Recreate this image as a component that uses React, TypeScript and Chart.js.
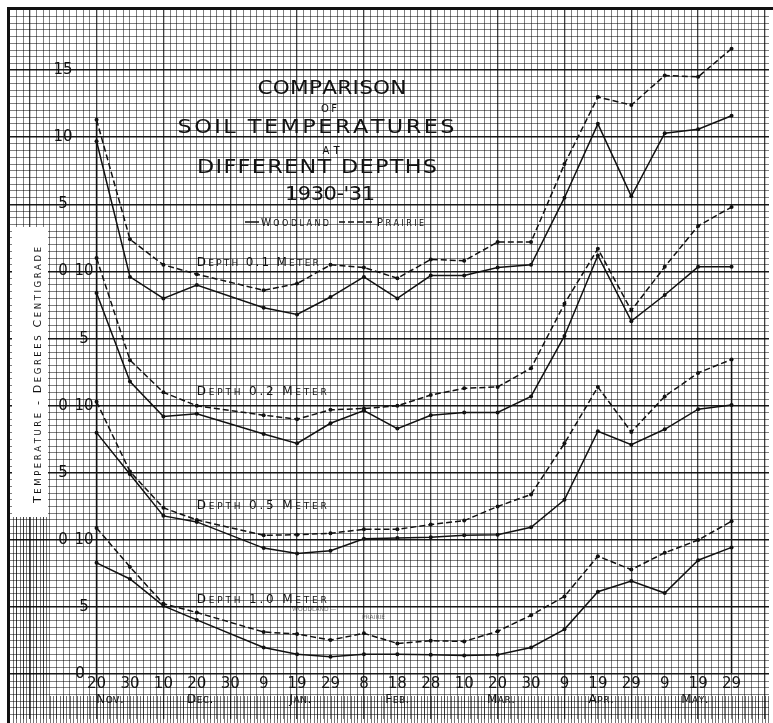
import React, { useEffect, useRef } from 'react';
import { Chart, registerables } from 'chart.js';

Chart.register(...registerables);

// Days after 20 Nov 1930 on which readings were taken (no reading on 30 Dec)
const readingDays = [0, 10, 20, 30, 50, 60, 70, 80, 90, 100, 110, 120, 130, 140, 150, 160, 170, 180, 190];

// Soil temperatures, degrees centigrade
const woodland01 = [9.7, -0.4, -2.0, -1.0, -2.7, -3.2, -1.9, -0.4, -2.0, -0.3, -0.3, 0.3, 0.5, 5.5, 11.0, 5.6, 10.3, 10.6, 11.6];
const prairie01 = [11.3, 2.4, 0.5, -0.2, -1.4, -0.9, 0.5, 0.3, -0.5, 0.9, 0.8, 2.2, 2.2, 8.0, 13.0, 12.4, 14.6, 14.5, 16.6];
const woodland02 = [8.4, 1.8, -0.8, -0.6, -2.1, -2.8, -1.3, -0.35, -1.7, -0.7, -0.5, -0.5, 0.7, 5.2, 11.2, 6.3, 8.25, 10.35, 10.35];
const prairie02 = [11.0, 3.4, 1.0, 0.0, -0.7, -1.0, -0.3, -0.2, 0.0, 0.8, 1.3, 1.4, 2.8, 7.6, 11.7, 7.1, 10.35, 13.4, 14.8];
const woodland05 = [8.0, 4.9, 1.8, 1.35, -0.6, -1.0, -0.8, 0.1, 0.15, 0.2, 0.35, 0.4, 0.95, 3.0, 8.1, 7.1, 8.25, 9.75, 10.05];
const prairie05 = [10.3, 5.1, 2.4, 1.5, 0.35, 0.4, 0.5, 0.8, 0.8, 1.15, 1.45, 2.5, 3.4, 7.2, 11.4, 8.05, 10.7, 12.45, 13.45];
const woodland10 = [8.3, 7.1, 5.1, 4.05, 2.0, 1.5, 1.3, 1.5, 1.5, 1.45, 1.4, 1.45, 2.0, 3.35, 6.15, 6.95, 6.05, 8.5, 9.45];
const prairie10 = [10.9, 8.0, 5.25, 4.6, 3.15, 3.0, 2.55, 3.05, 2.3, 2.5, 2.45, 3.2, 4.4, 5.8, 8.8, 7.8, 9.05, 10.0, 11.4];

const depthNames = ['0.1', '0.2', '0.5', '1.0'];
// each depth is drawn on its own zero, stacked 10 degrees apart
const depthOffsets = [30, 20, 10, 0];
const woodlandSeries = [woodland01, woodland02, woodland05, woodland10];
const prairieSeries = [prairie01, prairie02, prairie05, prairie10];

// x-axis ticks
const tickDays = [0, 10, 20, 30, 40, 50, 60, 70, 80, 90, 100, 110, 120, 130, 140, 150, 160, 170, 180, 190];
const dayTickLabels = ['20', '30', '10', '20', '30', '9', '19', '29', '8', '18', '28', '10', '20', '30', '9', '19', '29', '9', '19', '29'];
const monthTickDays = [4, 31, 61, 90, 121, 151, 179];
const monthTickLabels = ['NOV.', 'DEC.', 'JAN.', 'FEB.', 'MAR.', 'APR.', 'MAY.'];

// y-axis ticks (two columns of labels, values on the stacked scale)
const outerTickValues = [45, 40, 35, 30, 20, 15, 10];
const outerTickLabels = ['15', '10', '5', '0', '0', '5', '0'];
const innerTickValues = [30, 25, 20, 10, 5, 0];
const innerTickLabels = ['10', '5', '10', '10', '5', '0'];

const titleLines = ['COMPARISON', 'OF', 'SOIL TEMPERATURES', 'AT', 'DIFFERENT DEPTHS', "1930-'31"];
const yTitle = 'TEMPERATURE - DEGREES CENTIGRADE';

const FAMILY = '"DejaVu Sans", sans-serif';
const INK = '#111';

function lettering(
  ctx: CanvasRenderingContext2D,
  text: string,
  x: number,
  cy: number,
  big: number,
  small: number,
  width: number | null,
  align: 'left' | 'center' = 'center',
  stretch = 1
) {
  const chars = [...text];
  const sizes = chars.map((ch, i) =>
    i === 0 || chars[i - 1] === ' ' || /[0-9.\-']/.test(ch) ? big : small
  );
  const widths = chars.map((ch, i) => {
    ctx.font = `${sizes[i]}px ${FAMILY}`;
    return ctx.measureText(ch).width * stretch;
  });
  const natural = widths.reduce((a, b) => a + b, 0);
  const gap = width ? (width - natural) / Math.max(1, chars.length - 1) : 0.5;
  const total = natural + gap * (chars.length - 1);
  let cx = align === 'center' ? x - total / 2 : x;
  const baseline = cy + big * 0.36;
  ctx.textAlign = 'left';
  ctx.textBaseline = 'alphabetic';
  chars.forEach((ch, i) => {
    ctx.font = `${sizes[i]}px ${FAMILY}`;
    ctx.save();
    ctx.translate(cx, baseline);
    ctx.scale(stretch, 1);
    ctx.fillText(ch, 0, 0);
    ctx.restore();
    cx += widths[i] + gap;
  });
}

const paperPlugin = {
  id: 'paper',
  beforeDatasetsDraw(chart: any) {
    // denser hatching of the worn paper strip along the bottom and lower left
    const ctx: CanvasRenderingContext2D = chart.ctx;
    const xs = chart.scales.x;
    ctx.save();
    ctx.strokeStyle = 'rgba(0,0,0,0.55)';
    ctx.lineWidth = 1;
    for (let d = -25; d <= 201; d++) {
      const x = Math.round(xs.getPixelForValue(d)) + 0.5;
      ctx.beginPath();
      ctx.moveTo(x, 696);
      ctx.lineTo(x, 723);
      if (x < 50) {
        ctx.moveTo(x, 517);
        ctx.lineTo(x, 696);
      }
      ctx.stroke();
    }
    ctx.restore();
  },
  afterDraw(chart: any) {
    const ctx: CanvasRenderingContext2D = chart.ctx;
    const xs = chart.scales.x;
    const ys = chart.scales.y;
    const px = (v: number) => xs.getPixelForValue(v);
    const py = (v: number) => ys.getPixelForValue(v);
    ctx.save();
    ctx.fillStyle = INK;

    // paper edges
    ctx.fillRect(7, 7, 766, 3);
    ctx.fillRect(7, 7, 3, 716);

    // y-axis title on a white strip
    ctx.fillStyle = '#fff';
    ctx.fillRect(12, 227, 36, 290);
    ctx.fillStyle = INK;
    ctx.save();
    ctx.translate(37, 375);
    ctx.rotate(-Math.PI / 2);
    lettering(ctx, yTitle, 0, 0, 11, 8.5, 256);
    ctx.restore();

    // y tick labels
    ctx.font = `15px ${FAMILY}`;
    ctx.textAlign = 'center';
    ctx.textBaseline = 'middle';
    outerTickValues.forEach((v, i) => ctx.fillText(outerTickLabels[i], 63, py(v)));
    innerTickValues.forEach((v, i) => ctx.fillText(innerTickLabels[i], i === innerTickValues.length - 1 ? 80 : 84, py(v)));

    // x tick labels
    const labelY = py(-0.7);
    tickDays.forEach((d, i) => {
      ctx.font = `15px ${FAMILY}`;
      ctx.textAlign = 'center';
      ctx.textBaseline = 'middle';
      ctx.fillText(dayTickLabels[i], px(d), labelY);
    });
    const monthY = py(-1.8);
    monthTickDays.forEach((d, i) => lettering(ctx, monthTickLabels[i], px(d), monthY, 12, 9, null));

    // title
    lettering(ctx, titleLines[0], 332, 87, 20, 20, 149, 'center', 1.08);
    lettering(ctx, titleLines[1], 329, 108, 10, 10, 16);
    lettering(ctx, titleLines[2], 316, 126, 20, 20, 277, 'center', 1.12);
    lettering(ctx, titleLines[3], 331, 150, 10, 10, 17);
    lettering(ctx, titleLines[4], 317, 166, 20, 20, 240, 'center', 1.12);
    lettering(ctx, titleLines[5], 330, 193, 20, 20, 90, 'center', 1.05);

    // legend
    ctx.strokeStyle = INK;
    ctx.lineWidth = 1.5;
    ctx.beginPath();
    ctx.moveTo(245, 222);
    ctx.lineTo(259, 222);
    ctx.stroke();
    lettering(ctx, 'WOODLAND', 261, 222, 10, 8, 68, 'left');
    ctx.setLineDash([6, 3]);
    ctx.beginPath();
    ctx.moveTo(339, 222);
    ctx.lineTo(374, 222);
    ctx.stroke();
    ctx.setLineDash([]);
    lettering(ctx, 'PRAIRIE', 377, 222, 10, 8, 47, 'left');

    // depth labels
    const depthLabelLift = [0.7, 1.1, 2.6, 5.6];
    depthNames.forEach((n, i) => {
      lettering(ctx, `DEPTH ${n} METER`, px(30), py(depthOffsets[i] + depthLabelLift[i]), 12, 9, i === 0 ? 122 : 130, 'left');
    });
    ctx.fillStyle = 'rgba(0,0,0,0.55)';
    ctx.font = `6px ${FAMILY}`;
    ctx.textAlign = 'left';
    ctx.fillText('WOODLAND —', 292, 611);
    ctx.fillText('PRAIRIE', 362, 619);
    ctx.restore();
  },
};

export default function App() {
  const canvasRef = useRef<HTMLCanvasElement | null>(null);

  useEffect(() => {
    if (!canvasRef.current) return;
    const datasets: any[] = [];
    depthNames.forEach((name, k) => {
      const off = depthOffsets[k];
      datasets.push({
        label: `Woodland ${name} m`,
        data: readingDays.map((d, i) => ({ x: d, y: woodlandSeries[k][i] + off })),
        borderColor: INK,
        backgroundColor: INK,
        borderWidth: 1.5,
        pointRadius: 2,
        pointBorderWidth: 0,
        pointBackgroundColor: INK,
        tension: 0,
        fill: false,
      });
      datasets.push({
        label: `Prairie ${name} m`,
        data: readingDays.map((d, i) => ({ x: d, y: prairieSeries[k][i] + off })),
        borderColor: INK,
        backgroundColor: INK,
        borderWidth: 1.5,
        borderDash: [6, 3],
        pointRadius: 2,
        pointBorderWidth: 0,
        pointBackgroundColor: INK,
        tension: 0,
        fill: false,
      });
    });
    // vertical reference lines at the first and last reading
    datasets.push({
      label: 'start',
      data: [
        { x: readingDays[0], y: -0.6 },
        { x: readingDays[0], y: prairie01[0] + depthOffsets[0] },
      ],
      borderColor: INK,
      borderWidth: 1.5,
      pointRadius: 0,
    });
    const last = readingDays.length - 1;
    datasets.push({
      label: 'end',
      data: [
        { x: readingDays[last], y: 0 },
        { x: readingDays[last], y: prairie05[last] + depthOffsets[2] },
      ],
      borderColor: INK,
      borderWidth: 1.5,
      pointRadius: 0,
    });

    const isMult = (v: number, m: number) => Math.abs(v / m - Math.round(v / m)) < 1e-6;

    const chart = new Chart(canvasRef.current, {
      type: 'line',
      data: { datasets },
      plugins: [paperPlugin],
      options: {
        responsive: false,
        animation: false,
        events: [],
        layout: { padding: { left: 10, top: 10, right: 0, bottom: 0 } },
        plugins: {
          legend: { display: false },
          tooltip: { enabled: false },
          title: { display: false },
        },
        scales: {
          x: {
            type: 'linear',
            min: -25.9,
            max: 201.2,
            ticks: { display: false },
            border: { display: false },
            grid: {
              drawTicks: false,
              color: (c: any) => (c.tick && isMult(c.tick.value, 20) ? 'rgba(0,0,0,0.75)' : 'rgba(0,0,0,0.5)'),
              lineWidth: (c: any) => (c.tick && isMult(c.tick.value, 20) ? 1.3 : 1),
            },
            afterBuildTicks: (s: any) => {
              const t = [];
              for (let k = -12; k <= 100; k++) t.push({ value: 2 * k });
              s.ticks = t;
            },
          },
          y: {
            type: 'linear',
            min: -3.33,
            max: 49.48,
            ticks: { display: false },
            border: { display: false },
            grid: {
              drawTicks: false,
              color: (c: any) => (c.tick && isMult(c.tick.value, 5) ? 'rgba(0,0,0,0.9)' : 'rgba(0,0,0,0.5)'),
              lineWidth: (c: any) => (c.tick && isMult(c.tick.value, 5) ? 1.6 : 1),
            },
            afterBuildTicks: (s: any) => {
              const t = [];
              for (let k = -6; k <= 99; k++) t.push({ value: k * 0.5 });
              s.ticks = t;
            },
          },
        },
      },
    });
    return () => chart.destroy();
  }, []);

  return (
    <div style={{ position: 'absolute', left: 0, top: 0, width: 773, height: 723, background: '#fff' }}>
      <canvas ref={canvasRef} width={773} height={723} style={{ display: 'block' }} />
    </div>
  );
}
